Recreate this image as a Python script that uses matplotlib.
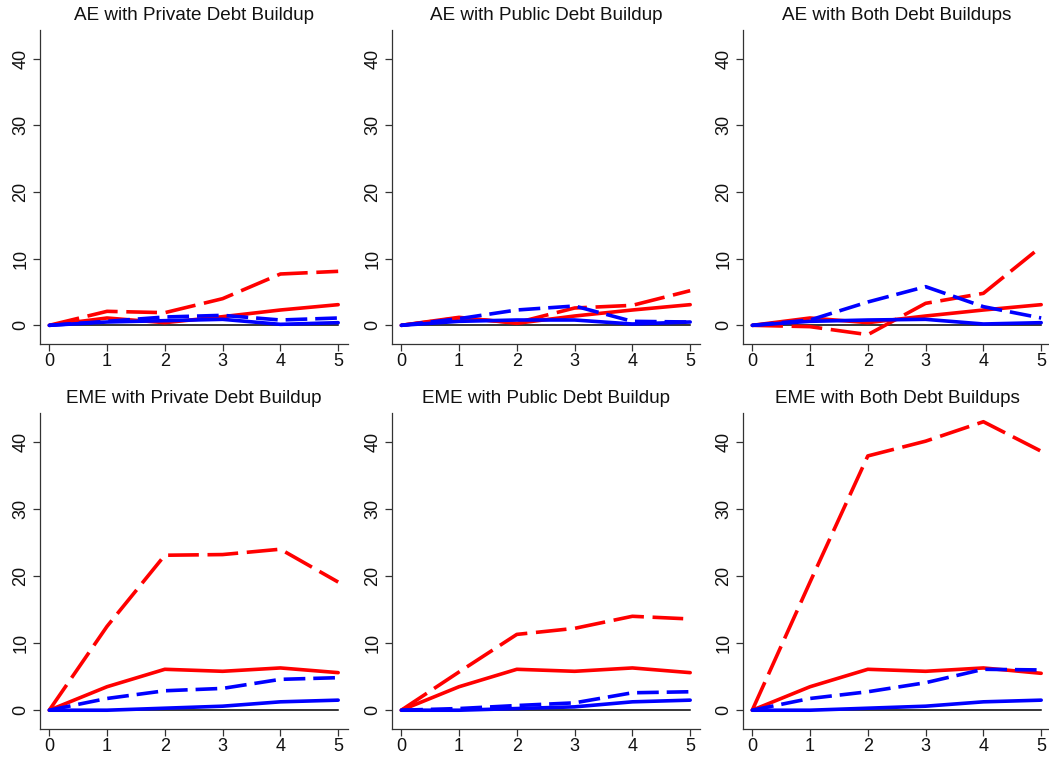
import matplotlib
matplotlib.use("Agg")
import matplotlib.pyplot as plt

plt.rcParams['font.family'] = ['Liberation Sans', 'DejaVu Sans']

horizons = [0, 1, 2, 3, 4, 5]
titles = [
    "AE with Private Debt Buildup", "AE with Public Debt Buildup", "AE with Both Debt Buildups",
    "EME with Private Debt Buildup", "EME with Public Debt Buildup", "EME with Both Debt Buildups",
]

# red solid, red dashed, blue solid, blue dashed
red_solid = [
    [0, 1.1, 0.4, 1.3, 2.3, 3.1],
    [0, 1.2, 0.3, 1.4, 2.3, 3.1],
    [0, 1.1, 0.4, 1.4, 2.3, 3.1],
    [0, 3.5, 6.1, 5.8, 6.3, 5.6],
    [0, 3.5, 6.1, 5.8, 6.3, 5.6],
    [0, 3.5, 6.1, 5.8, 6.3, 5.5],
]
red_dashed = [
    [0, 2.1, 1.9, 4.0, 7.7, 8.1],
    [0, 1.1, 0.4, 2.6, 3.0, 5.2],
    [0, -0.2, -1.4, 3.3, 4.8, 11.8],
    [0, 12.5, 23.1, 23.2, 24.0, 19.1],
    [0, 5.7, 11.3, 12.2, 14.0, 13.6],
    [0, 19.1, 37.9, 40.1, 43.0, 38.6],
]
blue_solid = [
    [0, 0.5, 0.7, 0.9, 0.15, 0.4],
    [0, 0.6, 0.8, 0.8, 0.2, 0.5],
    [0, 0.6, 0.8, 0.9, 0.2, 0.4],
    [0, 0.0, 0.3, 0.6, 1.25, 1.5],
    [0, 0.0, 0.25, 0.5, 1.25, 1.5],
    [0, 0.0, 0.3, 0.6, 1.25, 1.5],
]
blue_dashed = [
    [0, 0.6, 1.25, 1.5, 0.8, 1.1],
    [0, 1.0, 2.3, 2.9, 0.6, 0.5],
    [0, 0.8, 3.5, 5.8, 2.8, 1.1],
    [0, 1.75, 2.9, 3.25, 4.6, 4.85],
    [0, 0.25, 0.7, 1.1, 2.6, 2.75],
    [0, 1.75, 2.75, 4.1, 6.1, 6.0],
]
yticks = [0, 10, 20, 30, 40]
xticks = [0, 1, 2, 3, 4, 5]

W, H = 1049, 757
fig = plt.figure(figsize=(W / 100, H / 100), dpi=100)

col_left = [40, 392, 743]
col_w = 308
row_top = [30, 413]
row_h = [314, 316]

lw = 2.6
for i in range(6):
    r, c = divmod(i, 3)
    ax = fig.add_axes([col_left[c] / W, 1 - (row_top[r] + row_h[r]) / H,
                       col_w / W, row_h[r] / H])
    ax.plot([horizons[0], horizons[-1]], [0, 0], color='black', lw=1.1, zorder=1)
    ax.plot(horizons, red_solid[i], color='#ff0000', lw=lw, solid_joinstyle='round',
            solid_capstyle='round', zorder=2)
    ax.plot(horizons, red_dashed[i], color='#ff0000', lw=lw, dashes=(8.5, 2.4), zorder=3)
    ax.plot(horizons, blue_solid[i], color='#0000ff', lw=lw, solid_joinstyle='round',
            solid_capstyle='round', zorder=4)
    ax.plot(horizons, blue_dashed[i], color='#0000ff', lw=lw, dashes=(6.0, 2.2), zorder=5)
    ax.set_xlim(-0.16, 5.17)
    ax.set_ylim(-2.8, 44.3)
    ax.set_xticks(xticks)
    ax.set_yticks(yticks)
    ax.set_yticklabels([str(v) for v in yticks], rotation=90, va='center')
    ax.tick_params(axis='both', labelsize=13, length=5, width=0.9, color='#333333',
                   labelcolor='#111111')
    ax.tick_params(axis='x', pad=1.5)
    ax.tick_params(axis='y', pad=2.5)
    for s in ['top', 'right']:
        ax.spines[s].set_visible(False)
    for s in ['left', 'bottom']:
        ax.spines[s].set_linewidth(0.9)
        ax.spines[s].set_color('#333333')
    ax.set_title(titles[i], fontsize=13.6, pad=7, color='#111111')

fig.savefig("out.png", dpi=100)
